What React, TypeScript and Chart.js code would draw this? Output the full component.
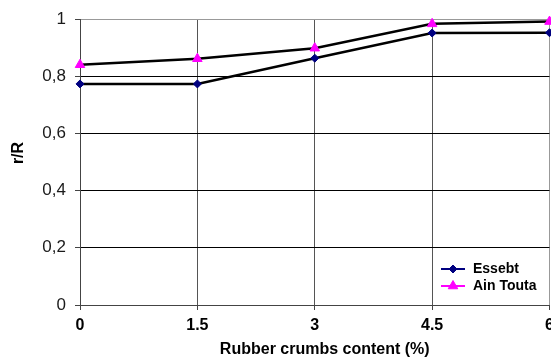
import React, { useEffect, useRef } from "react";
import { Chart, registerables } from "chart.js";
import { drawPoint } from "chart.js/helpers";

Chart.register(...registerables);

const xValues = [0, 1.5, 3, 4.5, 6];
const essebt = [0.773, 0.773, 0.863, 0.951, 0.952];
const ainTouta = [0.84, 0.861, 0.898, 0.983, 0.991];
const seriesNames = ["Essebt", "Ain Touta"];
const xTitle = "Rubber crumbs content (%)";
const yTitle = "r/R";

const FONT = "'Liberation Sans', Arial, sans-serif";

const titlesAndLegend = {
  id: "titlesAndLegend",
  afterDraw(chart: any) {
    const ctx = chart.ctx;
    const area = chart.chartArea;
    ctx.save();
    ctx.fillStyle = "#000";
    ctx.textAlign = "center";
    ctx.textBaseline = "middle";
    ctx.font = `bold 16px ${FONT}`;
    ctx.fillText(xTitle, (area.left + area.right) / 2 + 10, 350);
    ctx.save();
    ctx.translate(19, 153);
    ctx.rotate(-Math.PI / 2);
    ctx.fillText(yTitle, 0, 0);
    ctx.restore();

    // legend
    const items = [
      { name: seriesNames[0], color: "#000080", style: "rectRot", r: 4 },
      { name: seriesNames[1], color: "#FF00FF", style: "triangle", r: 5.5 },
    ];
    const lx0 = 441;
    const lx1 = 465;
    const ys = [269, 286];
    ctx.font = `bold 14px ${FONT}`;
    ctx.textAlign = "left";
    items.forEach((it, i) => {
      const y = ys[i];
      ctx.strokeStyle = it.color;
      ctx.lineWidth = 2;
      ctx.beginPath();
      ctx.moveTo(lx0, y);
      ctx.lineTo(lx1, y);
      ctx.stroke();
      ctx.fillStyle = it.color;
      ctx.strokeStyle = it.color;
      ctx.lineWidth = 1;
      drawPoint(ctx, { pointStyle: it.style, radius: it.r, borderWidth: 1, rotation: 0 } as any, (lx0 + lx1) / 2, y);
      ctx.fillStyle = "#000";
      ctx.fillText(it.name, 473, y);
    });
    ctx.restore();
  },
};

export default function App() {
  const ref = useRef<HTMLCanvasElement>(null);
  useEffect(() => {
    if (!ref.current) return;
    const chart = new Chart(ref.current, {
      type: "line",
      data: {
        datasets: [
          {
            label: seriesNames[0],
            data: xValues.map((x, i) => ({ x, y: essebt[i] })),
            borderColor: "#000",
            borderWidth: 2.5,
            pointStyle: "rectRot",
            pointRadius: 4,
            pointBackgroundColor: "#000080",
            pointBorderColor: "#000080",
            pointBorderWidth: 1,
            clip: false as any,
          },
          {
            label: seriesNames[1],
            data: xValues.map((x, i) => ({ x, y: ainTouta[i] })),
            borderColor: "#000",
            borderWidth: 2.5,
            pointStyle: "triangle",
            pointRadius: 5.5,
            pointBackgroundColor: "#FF00FF",
            pointBorderColor: "#FF00FF",
            pointBorderWidth: 1,
            clip: false as any,
          },
        ],
      },
      options: {
        responsive: false,
        animation: false,
        layout: { padding: { top: 19, right: 2, left: 0, bottom: 0 } },
        plugins: { legend: { display: false }, tooltip: { enabled: false } },
        scales: {
          x: {
            type: "linear",
            min: 0,
            max: 6,
            afterBuildTicks: (s: any) => {
              s.ticks = xValues.map((v) => ({ value: v }));
            },
            afterFit: (s: any) => {
              s.height = 55;
              s.paddingLeft = 0;
              s.paddingRight = 0;
            },
            ticks: {
              padding: 6,
              color: "#000",
              font: { family: FONT, size: 16, weight: "bold" },
              callback: (v: any) => String(v),
              maxRotation: 0,
              autoSkip: false,
            },
            grid: {
              color: (c: any) => (c.tick && c.tick.value === 6 ? "#999" : "#555"),
              tickColor: "#444",
              tickLength: 5,
              lineWidth: 1,
            },
            border: { color: "#444", width: 1 },
          },
          y: {
            min: 0,
            max: 1,
            afterBuildTicks: (s: any) => {
              s.ticks = [0, 0.2, 0.4, 0.6, 0.8, 1].map((v) => ({ value: v }));
            },
            afterFit: (s: any) => {
              s.width = 80;
              s.paddingTop = 0;
              s.paddingBottom = 0;
            },
            ticks: {
              padding: 9,
              color: "#1a1a1a",
              font: { family: FONT, size: 17 },
              callback: (v: any) => String(Math.round(v * 10) / 10).replace(".", ","),
            },
            grid: {
              color: (c: any) => (c.tick && c.tick.value === 1 ? "#999" : "#000"),
              tickColor: "#444",
              tickLength: 5,
              lineWidth: 1,
            },
            border: { color: "#444", width: 1 },
          },
        },
      },
      plugins: [titlesAndLegend],
    });
    return () => chart.destroy();
  }, []);
  return (
    <div style={{ position: "fixed", left: 0, top: 0, width: 551, height: 360, overflow: "hidden", background: "#fff" }}>
      <canvas ref={ref} width={556} height={360} style={{ display: "block" }} />
    </div>
  );
}
